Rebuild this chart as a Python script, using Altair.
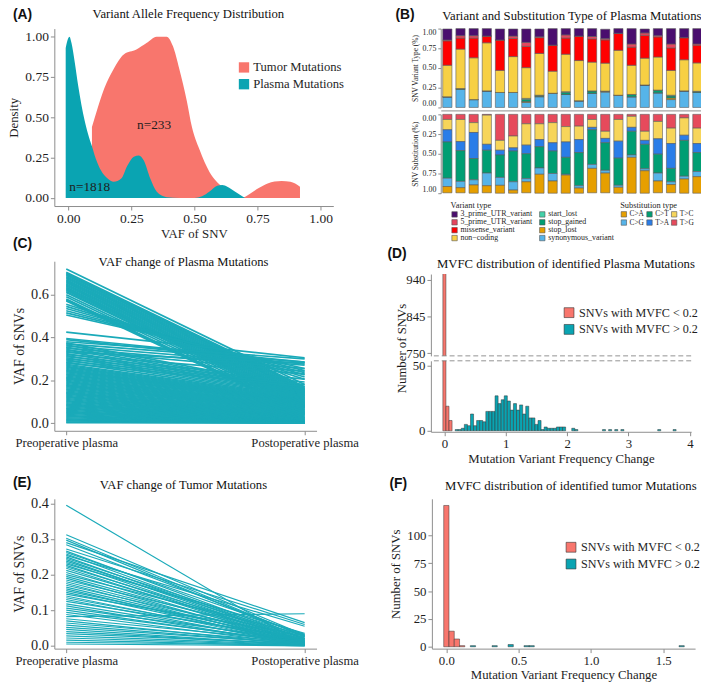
import altair as alt
import pandas as pd

SERIF = "Liberation Serif"
SANS = "Liberation Sans"
RED = "#F8766D"
TEAL = "#0AA4B2"
LINE = "#1AAAB9"
AX = "#8c8c8c"
TXT = "#1e1e1e"

# ---------------- Panel A : density curves
tumor_vaf = [0.094, 0.117, 0.143, 0.18, 0.22, 0.27, 0.31, 0.35, 0.39, 0.415, 0.44, 0.47,
             0.49, 0.52, 0.56, 0.61, 0.66, 0.695, 0.714, 0.753, 0.79, 0.845, 0.88, 0.918]
tumor_density = [0.44, 0.56, 0.68, 0.80, 0.89, 0.92, 0.96, 1.0, 1.0, 0.94, 0.80, 0.60,
                 0.44, 0.30, 0.16, 0.07, 0.02, 0.005, 0.02, 0.06, 0.09, 0.105, 0.10, 0.07]
plasma_vaf = [-0.01, 0.0, 0.005, 0.013, 0.026, 0.039, 0.052, 0.065, 0.078, 0.094,
              0.11, 0.13, 0.156, 0.18, 0.21, 0.234, 0.26, 0.28, 0.30, 0.325,
              0.35, 0.39, 0.44, 0.50, 0.53, 0.56, 0.59, 0.61, 0.63, 0.66, 0.70]
plasma_density = [0.93, 0.99, 1.0, 0.96, 0.84, 0.70, 0.58, 0.48, 0.40, 0.32,
                  0.24, 0.17, 0.12, 0.10, 0.12, 0.20, 0.256, 0.264, 0.23, 0.12,
                  0.04, 0.005, 0.0, 0.0, 0.01, 0.04, 0.075, 0.08, 0.07, 0.04, 0.0]
a_note_x = [0.34, 0.085]
a_note_y = [0.45, 0.065]
a_note_text = ["n=233", "n=1818"]

# ---------------- Panel B : stacked proportions, 20 samples
samples = ["P01", "P02", "P03", "P04", "P05", "P06", "P07", "P08", "P09", "P10",
           "P11", "P12", "P13", "P14", "P15", "P16", "P17", "P18", "P19", "P20"]
v_3utr = [0.14, 0.09, 0.09, 0.095, 0.14, 0.09, 0.17, 0.10, 0.21, 0.08, 0.095, 0.10, 0.12, 0.06, 0.195, 0.05, 0.09, 0.195, 0.115, 0.195]
v_5utr = [0.01, 0.03, 0.03, 0.0, 0.0, 0.03, 0.05, 0.01, 0.0, 0.04, 0.0, 0.03, 0.015, 0.0, 0.04, 0.03, 0.015, 0.05, 0.0, 0.015]
v_missense = [0.31, 0.14, 0.25, 0.085, 0.385, 0.23, 0.27, 0.20, 0.33, 0.205, 0.31, 0.295, 0.295, 0.215, 0.23, 0.29, 0.255, 0.285, 0.28, 0.225]
v_noncoding = [0.40, 0.50, 0.53, 0.61, 0.28, 0.455, 0.39, 0.53, 0.28, 0.475, 0.51, 0.365, 0.355, 0.57, 0.37, 0.34, 0.42, 0.315, 0.395, 0.36]
v_startlost = [0, 0, 0, 0, 0, 0, 0.015, 0, 0, 0.01, 0, 0, 0, 0, 0, 0, 0, 0.01, 0, 0]
v_stopgained = [0, 0.01, 0, 0, 0, 0, 0.025, 0.015, 0, 0.025, 0, 0.03, 0, 0, 0.03, 0, 0.035, 0.025, 0, 0.015]
v_stoplost = [0, 0, 0, 0, 0, 0, 0.01, 0.005, 0, 0, 0, 0, 0.012, 0, 0, 0, 0, 0.02, 0, 0]
v_synonymous = [0.135, 0.23, 0.10, 0.21, 0.19, 0.19, 0.065, 0.135, 0.18, 0.165, 0.085, 0.18, 0.195, 0.155, 0.135, 0.285, 0.185, 0.10, 0.21, 0.19]

s_TG = [0.065, 0.065, 0.105, 0.01, 0.33, 0.275, 0.12, 0.12, 0.105, 0.155, 0.15, 0.065, 0.215, 0.065, 0.025, 0.215, 0.09, 0.175, 0.045, 0.175]
s_TC = [0.13, 0.28, 0.125, 0.37, 0.125, 0.15, 0.27, 0.20, 0.255, 0.195, 0.17, 0.10, 0.09, 0.275, 0.14, 0.115, 0.22, 0.195, 0.22, 0.195]
s_TA = [0.155, 0.115, 0.33, 0.075, 0.06, 0.04, 0.11, 0.09, 0.105, 0.195, 0.165, 0.03, 0.055, 0.215, 0.05, 0.05, 0.195, 0.315, 0.065, 0.115]
s_CT = [0.46, 0.39, 0.27, 0.29, 0.285, 0.39, 0.315, 0.27, 0.285, 0.215, 0.42, 0.44, 0.35, 0.345, 0.30, 0.31, 0.24, 0.17, 0.455, 0.24]
s_CG = [0.105, 0.08, 0.065, 0.16, 0.10, 0.105, 0.04, 0.08, 0.095, 0.01, 0.03, 0.05, 0.035, 0.025, 0.03, 0.025, 0.10, 0.035, 0.035, 0.065]
s_CA = [0.08, 0.065, 0.105, 0.09, 0.10, 0.04, 0.14, 0.24, 0.155, 0.23, 0.065, 0.31, 0.25, 0.075, 0.455, 0.285, 0.15, 0.105, 0.18, 0.21]

# ---------------- Panel C : VAF pre -> post (plasma)
c_pre_high = [0.720, 0.705, 0.700, 0.695, 0.690, 0.685, 0.680, 0.675, 0.670, 0.665,
              0.660, 0.655, 0.650, 0.645, 0.640, 0.635, 0.630, 0.625, 0.620, 0.615,
              0.610, 0.600, 0.590, 0.580, 0.575, 0.570, 0.555, 0.545, 0.535, 0.525,
              0.515, 0.505, 0.425, 0.395, 0.390]
c_post_high = [0.180, 0.170, 0.165, 0.160, 0.155, 0.150, 0.145, 0.140, 0.135, 0.130,
               0.125, 0.120, 0.115, 0.110, 0.105, 0.100, 0.095, 0.090, 0.085, 0.080,
               0.075, 0.070, 0.060, 0.050, 0.045, 0.040, 0.205, 0.215, 0.225, 0.235,
               0.245, 0.255, 0.305, 0.285, 0.275]
c_pre_low = [0.380, 0.375, 0.370, 0.365, 0.360, 0.355, 0.350, 0.345, 0.340, 0.335,
             0.330, 0.325, 0.320, 0.315, 0.310, 0.305, 0.300, 0.295, 0.290, 0.285,
             0.280, 0.275, 0.270, 0.265, 0.260, 0.255, 0.250, 0.245, 0.240, 0.235,
             0.230, 0.225, 0.220, 0.215, 0.210, 0.205, 0.200, 0.195, 0.190, 0.185,
             0.180, 0.175, 0.170, 0.165, 0.160, 0.155, 0.150, 0.145, 0.140, 0.135,
             0.130, 0.125, 0.120, 0.115, 0.110, 0.105, 0.100, 0.095, 0.090, 0.085,
             0.080, 0.075, 0.070, 0.065, 0.060, 0.055, 0.050, 0.045, 0.040, 0.035,
             0.030, 0.025, 0.020, 0.015, 0.010, 0.005, 0.002]
c_post_low = [0.300, 0.160, 0.285, 0.155, 0.270, 0.150, 0.255, 0.146, 0.242, 0.142,
              0.280, 0.138, 0.230, 0.134, 0.205, 0.130, 0.192, 0.126, 0.180, 0.122,
              0.170, 0.118, 0.114, 0.110, 0.106, 0.103, 0.100, 0.097, 0.094, 0.091,
              0.088, 0.085, 0.082, 0.079, 0.076, 0.073, 0.070, 0.067, 0.064, 0.061,
              0.058, 0.055, 0.052, 0.049, 0.046, 0.043, 0.040, 0.037, 0.034, 0.031,
              0.028, 0.026, 0.024, 0.022, 0.020, 0.018, 0.016, 0.014, 0.012, 0.010,
              0.009, 0.008, 0.007, 0.006, 0.005, 0.004, 0.003, 0.002, 0.002, 0.001,
              0.001, 0.001, 0.000, 0.000, 0.000, 0.000, 0.000]

# ---------------- Panel D : MVFC histogram (plasma)
d_red_center = [0.0, 0.05, 0.10]
d_red_count = [960, 19, 8]
d_teal_center = [0.20, 0.25, 0.30, 0.35, 0.40, 0.45, 0.50, 0.55, 0.60, 0.65,
                 0.70, 0.75, 0.80, 0.85, 0.90, 0.95, 1.00, 1.05, 1.10, 1.15,
                 1.20, 1.25, 1.30, 1.35, 1.40, 1.45, 1.50, 1.55, 1.60, 1.65,
                 1.70, 1.75, 1.80, 1.85, 1.90, 1.95, 2.10, 2.15, 2.60, 2.70,
                 2.80, 2.90, 3.50, 3.75]
d_teal_count = [1, 1, 2, 5, 4, 13, 4, 8, 8, 7,
                15, 15, 15, 27, 21, 24, 27, 23, 16, 21,
                16, 20, 13, 19, 10, 10, 5, 8, 1, 3,
                2, 2, 2, 3, 3, 3, 2, 1, 1, 1,
                1, 1, 1, 1]

# ---------------- Panel E : VAF pre -> post (tumor)
e_pre = [0.395, 0.312, 0.302, 0.297, 0.290, 0.284, 0.272, 0.266, 0.262, 0.258,
         0.254, 0.250, 0.246, 0.242, 0.238, 0.234, 0.230, 0.226, 0.222, 0.218,
         0.212, 0.206, 0.200, 0.195, 0.190, 0.185, 0.180, 0.175, 0.170, 0.165,
         0.160, 0.155, 0.150, 0.145, 0.140, 0.135, 0.130, 0.125, 0.118, 0.112,
         0.106, 0.100, 0.094, 0.088, 0.082, 0.076, 0.070, 0.064, 0.058, 0.052,
         0.046, 0.040, 0.034, 0.028, 0.022, 0.016, 0.010, 0.005]
e_post = [0.000, 0.030, 0.025, 0.020, 0.065, 0.028, 0.060, 0.018, 0.032, 0.015,
          0.055, 0.012, 0.026, 0.010, 0.022, 0.008, 0.035, 0.006, 0.020, 0.005,
          0.016, 0.004, 0.030, 0.012, 0.003, 0.024, 0.010, 0.002, 0.018, 0.008,
          0.001, 0.014, 0.006, 0.028, 0.004, 0.012, 0.002, 0.020, 0.008, 0.001,
          0.015, 0.005, 0.010, 0.003, 0.090, 0.012, 0.002, 0.008, 0.004, 0.006,
          0.001, 0.003, 0.005, 0.002, 0.001, 0.000, 0.002, 0.000]

# ---------------- Panel F : MVFC histogram (tumor)
f_red_center = [0.0, 0.0365, 0.073, 0.1095]
f_red_count = [127, 14, 7, 1]
f_teal_center = [0.184, 0.334, 0.445, 0.555, 0.590, 1.627]
f_teal_count = [1, 1, 2, 1, 1, 1]

stages = ["Preoperative plasma", "Postoperative plasma"]
cls_domain = ["SNVs with MVFC < 0.2", "SNVs with MVFC > 0.2"]


def annot(txt, dx, dy, size=14, font=SANS, weight="bold", align="left"):
    return alt.Chart(pd.DataFrame({"lab": [txt]})).mark_text(
        font=font, fontSize=size, fontWeight=weight, align=align, baseline="middle", color="#111111"
    ).encode(text="lab:N", x=alt.value(dx), y=alt.value(dy))


def ptitle(txt, dx, dy, size=12.9):
    return annot(txt, dx, dy, size=size, font=SERIF, weight="normal", align="center")


# ======== Panel A
dfA_t = pd.DataFrame({"vaf": tumor_vaf, "density": tumor_density, "group": "Tumor Mutations"})
dfA_p = pd.DataFrame({"vaf": plasma_vaf, "density": plasma_density, "group": "Plasma Mutations"})
dfA_n = pd.DataFrame({"vaf": a_note_x, "density": a_note_y, "lab": a_note_text})
xA = alt.X("vaf:Q", scale=alt.Scale(domain=[-0.055, 1.05], nice=False, zero=False),
           axis=alt.Axis(values=[0, 0.25, 0.5, 0.75, 1.0], format=".2f", title="VAF of SNV", titlePadding=2,
                         labelFontSize=13.7))
yA = alt.Y("density:Q", scale=alt.Scale(domain=[-0.05, 1.05], nice=False, zero=False),
           axis=alt.Axis(values=[0, 0.25, 0.5, 0.75, 1.0], format=".2f", title="Density", labelFontSize=13.7))
colA = alt.Color("group:N", scale=alt.Scale(domain=["Tumor Mutations", "Plasma Mutations"], range=[RED, TEAL]),
                 legend=alt.Legend(title=None, orient="none", legendX=186, legendY=33, symbolType="square",
                                   symbolSize=110, symbolStrokeWidth=0, labelFontSize=12.8, labelOffset=3, rowPadding=3))
areaT = alt.Chart(dfA_t).mark_area(interpolate="monotone").encode(x=xA, y=yA, y2=alt.datum(0), color=colA)
areaP = alt.Chart(dfA_p).mark_area(interpolate="monotone").encode(x=xA, y=yA, y2=alt.datum(0), color=colA)
noteA = alt.Chart(dfA_n).mark_text(font=SERIF, fontSize=13.5, color=TXT).encode(x=xA, y=yA, text="lab:N")
chartA = alt.layer(areaT, areaP, noteA,
                   annot("(A)", -42, -14),
                   ptitle("Variant Allele Frequency Distribution", 136, -15)
                   ).properties(width=283, height=180)

# ======== Panel B
var_domain = ["3_prime_UTR_variant", "5_prime_UTR_variant", "missense_variant", "non\u2212coding",
              "start_lost", "stop_gained", "stop_lost", "synonymous_variant"]
var_range = ["#4A0E6E", "#E5465E", "#FF0000", "#F7D044", "#44D1A8", "#009E73", "#E69F00", "#56B4E9"]
var_series = [("synonymous_variant", v_synonymous), ("stop_lost", v_stoplost), ("stop_gained", v_stopgained),
              ("start_lost", v_startlost), ("non\u2212coding", v_noncoding), ("missense_variant", v_missense),
              ("5_prime_UTR_variant", v_5utr), ("3_prime_UTR_variant", v_3utr)]
rows = []
for k, (name, vals) in enumerate(var_series):
    for s, v in zip(samples, vals):
        rows.append({"sample": s, "vtype": name, "pct": v, "ord": k})
dfBv = pd.DataFrame(rows)

sub_domain = ["C>A", "C>G", "C>T", "T>A", "T>C", "T>G"]
sub_range = ["#E69F00", "#56B4E9", "#009E73", "#2A7DE8", "#F7D55A", "#E64A5C"]
sub_series = [("T>G", s_TG), ("T>C", s_TC), ("T>A", s_TA), ("C>T", s_CT), ("C>G", s_CG), ("C>A", s_CA)]
rows = []
for k, (name, vals) in enumerate(sub_series):
    for s, v in zip(samples, vals):
        rows.append({"sample": s, "stype": name, "pct": v, "ord": k})
dfBs = pd.DataFrame(rows)

bscale = alt.Scale(paddingInner=0.3, paddingOuter=0.15)
b_ax = dict(values=[0, 0.25, 0.5, 0.75, 1.0], format=".2f", labelFontSize=8, titleFontSize=7.5, tickSize=3,
            titlePadding=3, labelFlush=True)
leg_b = dict(orient="none", symbolType="square", symbolSize=30, symbolStrokeColor="#555555", symbolStrokeWidth=0.6,
             titleFontSize=8.5, titleFontWeight="normal", rowPadding=-0.5, labelOffset=2, titlePadding=1)

barsBtop = alt.Chart(dfBv).mark_bar(stroke="#5c5c5c", strokeWidth=0.6).encode(
    x=alt.X("sample:O", sort=samples, scale=bscale,
            axis=alt.Axis(labels=False, ticks=False, title=None, offset=3)),
    y=alt.Y("pct:Q", stack="zero", scale=alt.Scale(domain=[0, 1], nice=False),
            axis=alt.Axis(title="SNV Variant Type (%)", **b_ax)),
    color=alt.Color("vtype:N", scale=alt.Scale(domain=var_domain, range=var_range), legend=None),
    order=alt.Order("ord:Q", sort="ascending"))
chartBtop = alt.layer(barsBtop,
                      annot("(B)", -46, -14),
                      ptitle("Variant and Substitution Type of Plasma Mutations", 133, -13)
                      ).properties(width=267, height=80)

xBb = alt.X("sample:O", sort=samples, scale=bscale, axis=None)
yBb = alt.Y("pct:Q", stack="zero", scale=alt.Scale(domain=[0, 1], nice=False, reverse=True),
            axis=alt.Axis(title="SNV Substitution (%)", **b_ax))
varLegend = alt.Chart(dfBv).transform_filter("false").mark_bar(stroke="#5c5c5c", strokeWidth=0.6).encode(
    x=xBb, y=yBb,
    color=alt.Color("vtype:N", scale=alt.Scale(domain=var_domain, range=var_range),
                    legend=alt.Legend(title="Variant type", legendX=10, legendY=88, columns=2, columnPadding=6,
                                      labelFontSize=8, **leg_b)))
subBars = alt.Chart(dfBs).mark_bar(stroke="#5c5c5c", strokeWidth=0.6).encode(
    x=xBb, y=yBb,
    color=alt.Color("stype:N", scale=alt.Scale(domain=sub_domain, range=sub_range),
                    legend=alt.Legend(title="Substitution type", legendX=182, legendY=88, columns=3, columnPadding=0,
                                      labelFontSize=7.5, **leg_b)),
    order=alt.Order("ord:Q", sort="ascending"))
chartBbot = alt.layer(varLegend, subBars).resolve_scale(color="independent").properties(width=267, height=80)
groupB = alt.vconcat(chartBtop, chartBbot, spacing=7, bounds="flush").resolve_scale(color="independent")


# ======== Panels C, E (line pairs)
def pairs_df(pre, post):
    rows = []
    for i, (a, b) in enumerate(zip(pre, post)):
        rows.append({"id": i, "stage": stages[0], "vaf": a})
        rows.append({"id": i, "stage": stages[1], "vaf": b})
    return pd.DataFrame(rows)


xCE = alt.X("stage:N", sort=stages, scale=alt.Scale(type="point", padding=0.05),
            axis=alt.Axis(labelAngle=0, title=None, labelFontSize=12.8))
dfC = pairs_df(c_pre_high + c_pre_low, c_post_high + c_post_low)
linesC = alt.Chart(dfC).mark_line(color=LINE, strokeWidth=1.7).encode(
    x=xCE,
    y=alt.Y("vaf:Q", scale=alt.Scale(domain=[-0.036, 0.756], nice=False, zero=False),
            axis=alt.Axis(values=[0, 0.2, 0.4, 0.6], format=".1f", title="VAF of SNVs", labelFontSize=14.5, titleFontSize=14)),
    detail="id:N")
chartC = alt.layer(linesC,
                   annot("(C)", -42, -17),
                   ptitle("VAF change of Plasma Mutations", 131, 1, 12.8)
                   ).properties(width=266, height=172)

dfE = pairs_df(e_pre, e_post)
linesE = alt.Chart(dfE).mark_line(color=LINE, strokeWidth=1.2).encode(
    x=xCE,
    y=alt.Y("vaf:Q", scale=alt.Scale(domain=[-0.008, 0.413], nice=False, zero=False),
            axis=alt.Axis(values=[0, 0.1, 0.2, 0.3, 0.4], format=".1f", title="VAF of SNVs", labelFontSize=14.5, titleFontSize=14)),
    detail="id:N")
chartE = alt.layer(linesE,
                   annot("(E)", -42, -16),
                   ptitle("VAF change of Tumor Mutations", 131, -14, 12.8)
                   ).properties(width=266, height=152)


# ======== Panels D, F (histograms)
def hist_df(rc, rn, tc, tn, w):
    rows = []
    for c, n in zip(rc, rn):
        rows.append({"x0": c - w / 2, "x1": c + w / 2, "n": n, "cls": cls_domain[0]})
    for c, n in zip(tc, tn):
        rows.append({"x0": c - w / 2, "x1": c + w / 2, "n": n, "cls": cls_domain[1]})
    return pd.DataFrame(rows)


cls_scale = alt.Scale(domain=cls_domain, range=[RED, TEAL])
leg_hist = dict(title=None, orient="none", symbolType="square", symbolSize=100, symbolStrokeColor="#333333",
                symbolStrokeWidth=0.6, labelFontSize=12.3, labelOffset=4, rowPadding=3)

dfD = hist_df(d_red_center, d_red_count, d_teal_center, d_teal_count, 0.05)
xDscale = alt.Scale(domain=[-0.22, 4.02], nice=False, zero=False)
dTitle = alt.layer(
    alt.Chart(pd.DataFrame({"v": [0]})).mark_point(opacity=0).encode(x=alt.value(0), y=alt.value(0)),
    annot("(D)", -44, -7),
    ptitle("MVFC distribution of identified Plasma Mutations", 137, 3)
).properties(width=264, height=8)
dUpBars = alt.Chart(dfD).mark_bar(stroke="#333333", strokeWidth=0.5, clip=True).encode(
    x=alt.X("x0:Q", scale=xDscale, axis=None), x2="x1:Q",
    y=alt.Y("n:Q", scale=alt.Scale(domain=[743, 955], nice=False, zero=False),
            axis=alt.Axis(values=[750, 845, 940], title=None)),
    y2=alt.datum(0),
    color=alt.Color("cls:N", scale=cls_scale, legend=alt.Legend(legendX=134, legendY=33, **leg_hist)))
dUpRule = alt.Chart(pd.DataFrame({"v": [0]})).mark_rule(strokeDash=[5, 3], color="#777777", strokeWidth=0.8).encode(
    y=alt.datum(743))
chartDup = alt.layer(dUpBars, dUpRule).properties(width=264, height=83)

dLowBars = alt.Chart(dfD).mark_bar(stroke="#333333", strokeWidth=0.5, clip=True).encode(
    x=alt.X("x0:Q", scale=xDscale,
            axis=alt.Axis(values=[0, 1, 2, 3, 4], format="d", title="Mutation Variant Frequency Change", titlePadding=2)),
    x2="x1:Q",
    y=alt.Y("n:Q", scale=alt.Scale(domain=[-0.7, 54], nice=False, zero=False),
            axis=alt.Axis(values=[0, 50], title="Number of SNVs", titleY=-13)),
    y2=alt.datum(0),
    color=alt.Color("cls:N", scale=cls_scale, legend=None))
dLowRule = alt.Chart(pd.DataFrame({"v": [0]})).mark_rule(strokeDash=[5, 3], color="#777777", strokeWidth=0.8).encode(
    y=alt.datum(54))
chartDlow = alt.layer(dLowBars, dLowRule).properties(width=264, height=72)
groupD = alt.vconcat(dTitle, chartDup, chartDlow, spacing=5, bounds="flush").resolve_scale(color="independent")

dfF = hist_df(f_red_center, f_red_count, f_teal_center, f_teal_count, 0.0365)
fBars = alt.Chart(dfF).mark_bar(stroke="#333333", strokeWidth=0.5).encode(
    x=alt.X("x0:Q", scale=alt.Scale(domain=[-0.1, 1.72], nice=False, zero=False),
            axis=alt.Axis(values=[0, 0.5, 1.0, 1.5], format=".1f", title="Mutation Variant Frequency Change", titlePadding=1)),
    x2="x1:Q",
    y=alt.Y("n:Q", scale=alt.Scale(domain=[-1.7, 133], nice=False, zero=False),
            axis=alt.Axis(values=[0, 25, 50, 75, 100], title="Number of SNVs")),
    y2=alt.datum(0),
    color=alt.Color("cls:N", scale=cls_scale, legend=alt.Legend(legendX=135, legendY=43, **leg_hist)))
chartF = alt.layer(fBars,
                   annot("(F)", -43, -15),
                   ptitle("MVFC distribution of identified tumor Mutations", 141, -13)
                   ).properties(width=267, height=152)

# ======== Layout
row1 = alt.hconcat(chartA, groupB, spacing=52).resolve_scale(color="independent")
row2 = alt.hconcat(chartC, groupD, spacing=29).resolve_scale(color="independent")
row3 = alt.hconcat(chartE, chartF, spacing=31).resolve_scale(color="independent")
top = alt.vconcat(row1, row2, spacing=-5).resolve_scale(color="independent")
chart = alt.vconcat(top, row3, spacing=11).resolve_scale(color="independent").properties(
    padding={"left": 0, "top": -5, "right": -3, "bottom": 0}
).configure_view(stroke=None).configure_axis(
    labelFont=SERIF, titleFont=SERIF, titleFontWeight="normal", grid=False,
    domainColor=AX, tickColor=AX, labelColor=TXT, titleColor=TXT,
    labelFontSize=13, titleFontSize=13, tickSize=4, labelPadding=2, titlePadding=4
).configure_legend(
    labelFont=SERIF, titleFont=SERIF, labelColor=TXT, titleColor=TXT
)

chart.save("out.html", embed_options={"renderer": "svg", "actions": False})
